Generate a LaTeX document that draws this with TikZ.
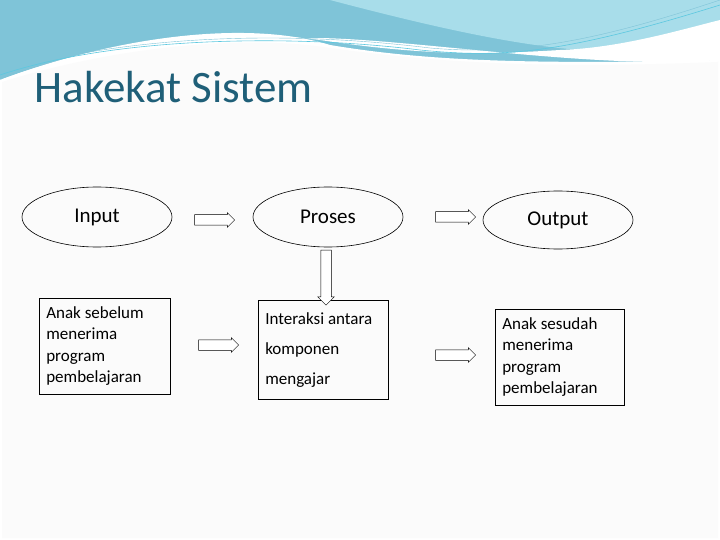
\documentclass[tikz,border=0pt]{standalone}
\usepackage{fontspec}
\setmainfont{Carlito}
\usetikzlibrary{shapes.geometric,shapes.arrows,positioning}
\definecolor{titleblue}{HTML}{1F5F78}
\definecolor{wavea}{HTML}{7FC4D8}
\definecolor{waveb}{HTML}{A8DDEA}
\definecolor{wavec}{HTML}{5CC8E0}
\tikzset{
  oval/.style={draw, ellipse, line width=0.6pt, minimum width=150pt, minimum height=60pt, font=\fontsize{21}{24}\selectfont},
  textbox/.style={draw, line width=0.6pt, align=flush left, anchor=north west, inner xsep=7pt, inner ysep=5pt, font=\fontsize{17}{21.5}\selectfont},
  blockarrow/.style={draw, single arrow, line width=0.5pt, fill=white, inner sep=5pt, single arrow head extend=2pt, minimum height=40pt}
}
\begin{document}
\begin{tikzpicture}[x=1pt,y=-1pt]
  \useasboundingbox (0,0) rectangle (720,540);
  \fill[gray!3] (0,0) rectangle (720,540);
  \draw[gray!50] (1,1) rectangle (719,539);
  % header waves
  \fill[wavea] (0,0) -- (720,0) -- (720,60) .. controls (600,130) and (420,20) .. (320,70)
    .. controls (200,60) and (80,60) .. (0,80) -- cycle;
  \fill[waveb] (330,0) -- (720,0) -- (720,30) .. controls (640,70) and (520,50) .. (330,0) -- cycle;
  \fill[white] (0,80) .. controls (80,50) and (200,25) .. (320,40)
    .. controls (420,55) and (480,55) .. (560,50) .. controls (620,48) and (680,30) .. (720,20)
    -- (720,60) .. controls (600,70) and (420,40) .. (320,38) .. controls (200,40) and (80,60) .. (0,80) -- cycle;
  \fill[white] (0,80) .. controls (120,35) and (250,20) .. (330,45) .. controls (420,60) and (520,65) .. (720,60)
    -- (720,540) -- (0,540) -- cycle;
  \fill[gray!3] (2,82) .. controls (120,45) and (250,35) .. (330,48) .. controls (420,60) and (520,70) .. (718,62)
    -- (718,538) -- (2,538) -- cycle;
  \draw[wavec, line width=0.6pt] (0,75) .. controls (120,35) and (300,35) .. (420,50) .. controls (500,58) and (560,55) .. (720,5);
  \draw[wavea, line width=0.4pt] (0,72) .. controls (140,32) and (300,32) .. (430,48) .. controls (520,56) and (600,40) .. (720,0);

  \node[anchor=west, text=titleblue, font=\fontsize{45}{50}\selectfont] (title) at (31,87) {Hakekat Sistem};

  % ovals
  \node[oval] (input) at (97,217) {Input};
  \node[oval] (proses) at (328,217) {Proses};
  \node[oval, minimum height=58pt] (output) at (558,220) {Output};

  % boxes
  \node[textbox, text width=117pt, minimum height=96pt] (before) at (39,298) {Anak sebelum\\menerima\\program\\pembelajaran};
  \node[textbox, text width=116pt, minimum height=99pt, font=\fontsize{17}{30}\selectfont] (interaksi) at (258,300) {Interaksi antara\\komponen\\mengajar};
  \node[textbox, text width=115pt, minimum height=96pt] (after) at (495,309) {Anak sesudah\\menerima\\program\\pembelajaran};

  % block arrows
  \node[blockarrow] (a1) at (212,220) {};
  \node[blockarrow] (a2) at (453,217) {};
  \node[blockarrow] (a3) at (216,345) {};
  \node[blockarrow] (a4) at (453,355) {};
  \node[blockarrow, rotate=-90, minimum height=55pt, single arrow head extend=3pt] (a5) at (326,275) {};
\end{tikzpicture}
\end{document}
